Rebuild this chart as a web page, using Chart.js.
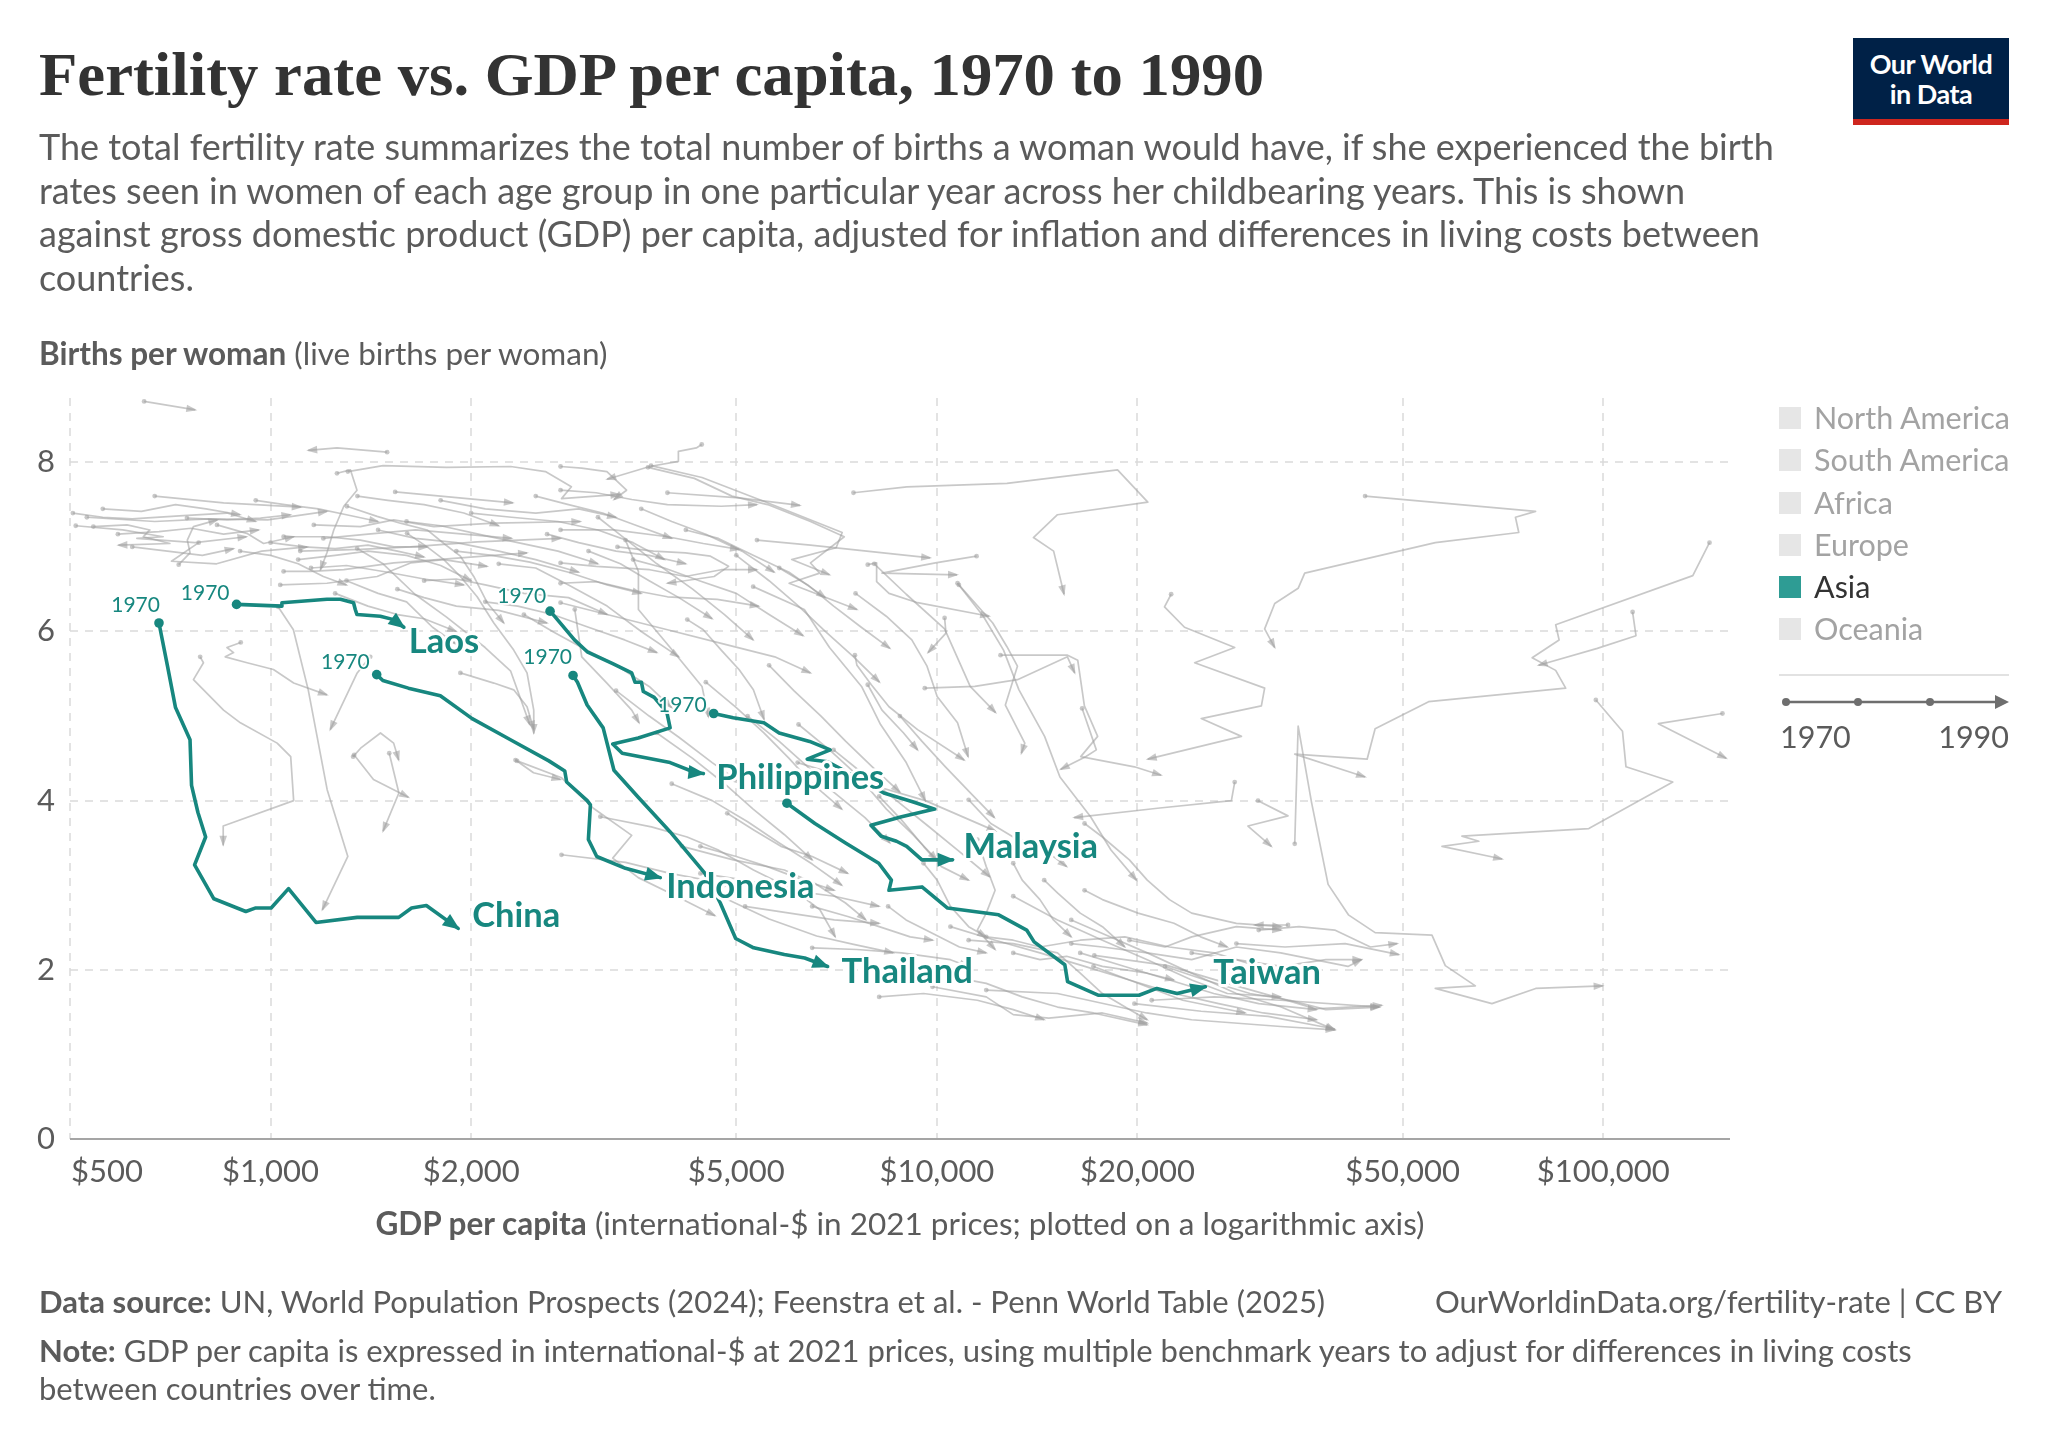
<!DOCTYPE html>
<html>
<head>
<meta charset="utf-8">
<script src="https://cdn.jsdelivr.net/npm/chart.js@4.4.1/dist/chart.umd.min.js"></script>
<style>
  html, body { margin: 0; padding: 0; background: #fff; }
  body { width: 2048px; height: 1446px; position: relative; overflow: hidden; font-family: Lato, "Noto Sans", sans-serif; color: #5b5b5b; }
  #chart { position: absolute; left: 0; top: 0; }
  .txt { position: absolute; white-space: nowrap; line-height: 1.2; }
  #title { left: 39px; top: 40px; font-family: "Liberation Serif", "DejaVu Serif", serif; font-weight: bold; font-size: 62px; color: #333; line-height: 1.1; transform-origin: left top; }
  #subtitle { left: 39px; top: 125px; font-size: 36px; line-height: 43.5px; }
  #ytitle { left: 39px; top: 335px; font-size: 31.5px; }
  #xtitle { left: 70px; width: 1660px; text-align: center; top: 1205px; font-size: 31.5px; }
  #source { left: 39px; top: 1283px; font-size: 31px; }
  #url { right: 46px; top: 1283px; font-size: 31px; }
  #note { left: 39px; top: 1332px; font-size: 31px; line-height: 37.5px; }
  b { font-weight: bold; }
  #logo { position: absolute; left: 1853px; top: 38px; width: 156px; height: 87px; background: #002147; }
  #logo .bar { position: absolute; left: 0; bottom: 0; width: 100%; height: 6px; background: #ce261e; }
  #logo .t { position: absolute; left: 0; width: 100%; text-align: center; color: #fff; font-size: 27px; font-weight: bold; line-height: 1; letter-spacing: -0.5px; }
  .leg { position: absolute; left: 1779px; height: 22px; }
  .leg .sq { position: absolute; left: 0; top: 0; width: 22px; height: 22px; background: #e6e6e6; }
  .leg .lb { position: absolute; left: 35px; top: -8px; font-size: 30.5px; line-height: 1.2; color: #a3a3a3; white-space: nowrap; }
  .leg.on .sq { background: #2e9c94; }
  .leg.on .lb { color: #333; }
  #sep { position: absolute; left: 1779px; top: 674px; width: 230px; height: 2px; background: #e2e2e2; }
</style>
</head>
<body>
<canvas id="chart" width="2048" height="1446"></canvas>

<div id="title" class="txt">Fertility rate vs. GDP per capita, 1970 to 1990</div>
<div id="subtitle" class="txt">The total fertility rate summarizes the total number of births a woman would have, if she experienced the birth<br>rates seen in women of each age group in one particular year across her childbearing years. This is shown<br>against gross domestic product (GDP) per capita, adjusted for inflation and differences in living costs between<br>countries.</div>
<div id="ytitle" class="txt"><b>Births per woman</b> (live births per woman)</div>
<div id="xtitle" class="txt"><b>GDP per capita</b> (international-$ in 2021 prices; plotted on a logarithmic axis)</div>
<div id="source" class="txt"><b>Data source:</b> UN, World Population Prospects (2024); Feenstra et al. - Penn World Table (2025)</div>
<div id="url" class="txt">OurWorldinData.org/fertility-rate | CC BY</div>
<div id="note" class="txt"><b>Note:</b> GDP per capita is expressed in international-$ at 2021 prices, using multiple benchmark years to adjust for differences in living costs<br>between countries over time.</div>

<div id="logo"><div class="t" style="top:12px">Our World</div><div class="t" style="top:42px">in Data</div><div class="bar"></div></div>
<div id="legend"></div>
<div id="sep"></div>
<canvas id="timeline" width="240" height="80" style="position:absolute;left:1775px;top:690px"></canvas>

<script>
// ---- data: [GDP per capita, births per woman], 1970 -> 1990 ----
const china = [[680,6.10],[700,5.60],[720,5.10],[757,4.72],[761,4.18],[778,3.86],[799,3.57],[769,3.24],[822,2.84],[918,2.69],[948,2.73],[1002,2.73],[1064,2.96],[1170,2.56],[1349,2.62],[1557,2.62],[1628,2.73],[1713,2.76],[1912,2.49]];
const laos = [[889,6.32],[1040,6.30],[1040,6.34],[1215,6.38],[1273,6.38],[1332,6.34],[1340,6.26],[1348,6.20],[1461,6.18],[1530,6.14],[1585,6.05]];
const indonesia = [[1443,5.49],[1474,5.42],[1610,5.33],[1798,5.24],[2007,4.97],[2291,4.72],[2616,4.47],[2764,4.35],[2782,4.22],[2987,4.00],[3020,3.95],[2999,3.54],[3087,3.34],[3409,3.20],[3845,3.09]];
const thailand = [[2844,5.48],[2888,5.40],[2986,5.13],[3156,4.86],[3276,4.36],[3563,4.04],[3979,3.63],[4487,3.14],[4731,2.79],[4989,2.37],[5309,2.26],[5902,2.18],[6333,2.14],[6855,2.04]];
const philippines = [[2627,6.24],[2675,6.17],[2858,5.90],[2987,5.76],[3262,5.62],[3483,5.51],[3523,5.40],[3602,5.40],[3626,5.29],[3765,5.22],[3934,5.04],[3978,4.86],[3563,4.74],[3262,4.67],[3371,4.56],[3978,4.45],[4345,4.33],[4462,4.32]];
const malaysia = [[4624,5.03],[4947,4.98],[5500,4.92],[5798,4.80],[6442,4.70],[6917,4.60],[6388,4.49],[6855,4.46],[7163,4.38],[8324,4.09],[9169,3.99],[9927,3.90],[8851,3.81],[7962,3.71],[8250,3.58],[8698,3.52],[9010,3.46],[9498,3.30],[10558,3.30]];
const taiwan = [[5956,3.97],[6561,3.73],[7293,3.50],[8180,3.26],[8546,3.06],[8472,2.94],[9498,2.98],[10376,2.73],[12380,2.65],[13637,2.47],[13994,2.33],[15560,2.06],[15710,1.86],[17455,1.70],[20108,1.70],[21380,1.78],[22940,1.72],[25290,1.80]];

const asiaNames = ["China", "Laos", "Indonesia", "Thailand", "Philippines", "Malaysia", "Taiwan"];
const asiaSeries = [china, laos, indonesia, thailand, philippines, malaysia, taiwan];

// other countries, drawn in grey
const otherCountries = [
  [[646,8.72],[771,8.62]],
  [[505,7.4],[560,7.35],[620,7.33],[740,7.37],[860,7.4],[950,7.3]],
  [[510,7.25],[600,7.2],[690,7.12],[630,7.1],[770,7.05],[920,7.12]],
  [[530,7.35],[670,7.3],[810,7.33],[990,7.32],[1215,7.42]],
  [[670,7.6],[850,7.52],[1110,7.47]],
  [[780,7.05],[710,6.83],[830,6.8],[970,6.95],[1135,7.0]],
  [[728,6.79],[757,6.93],[750,7.08],[766,7.24],[832,7.32]],
  [[1496,8.12],[1258,8.17],[1139,8.14]],
  [[1538,7.65],[2310,7.52]],
  [[1306,7.89],[1475,7.96],[1837,7.94],[2293,7.95],[2585,7.89],[2828,7.71],[2733,7.57],[3339,7.62]],
  [[3724,7.96],[4441,7.82],[5532,7.53],[7210,7.17],[7060,6.99],[6055,6.85],[6900,6.67]],
  [[7496,7.64],[9016,7.71],[12740,7.75],[18670,7.91],[20730,7.53],[15170,7.38],[13960,7.11],[14970,6.95],[15520,6.44]],
  [[43920,7.60],[79160,7.42],[73850,7.35],[74700,7.17],[55980,7.05],[35650,6.69],[34850,6.51],[32140,6.33],[31040,6.03],[32140,5.81]],
  [[144400,7.05],[136300,6.66],[84860,6.08],[85870,5.90],[78240,5.69],[84860,5.54],[87850,5.33],[54700,5.17],[45470,4.85],[44230,4.49],[34440,4.55],[43920,4.28]],
  [[110700,6.23],[112000,5.95],[98000,5.8],[80000,5.6]],
  [[97500,5.19],[106900,4.82],[108200,4.40],[127200,4.22],[95160,3.67],[61380,3.58],[65070,3.52],[57290,3.46],[70530,3.31]],
  [[151000,5.03],[121000,4.91],[153000,4.5]],
  [[34440,3.49],[34850,4.88],[36500,3.98],[38650,3.01],[41460,2.65],[45470,2.44],[55340,2.41],[57950,2.05],[64300,1.81],[55980,1.78],[68080,1.60],[79210,1.78],[99800,1.81]],
  [[22470,6.44],[21960,6.29],[23530,6.05],[27990,5.81],[24370,5.63],[31040,5.33],[30690,5.12],[24930,4.97],[28650,4.76],[20720,4.49]],
  [[27990,4.22],[27670,4.0],[21430,3.91],[16070,3.8]],
  [[30340,4.0],[33650,3.82],[29300,3.70],[31770,3.46]],
  [[12460,5.72],[15710,5.72],[16270,5.66],[16650,5.12],[17430,4.76],[16440,4.52],[19790,4.40],[21700,4.30]],
  [[1027,6.29],[1082,6.02],[1139,5.31],[1216,4.13],[1306,3.34],[1196,2.71]],
  [[784,5.70],[793,5.63],[766,5.43],[850,5.07],[901,4.92],[1023,4.68],[1072,4.52],[1083,4.0],[849,3.70],[849,3.48]],
  [[902,5.87],[860,5.81],[880,5.75],[855,5.70],[922,5.63],[1010,5.55],[1083,5.39],[1215,5.25]],
  [[1335,4.54],[1427,4.25],[1610,4.04]],
  [[1507,4.56],[1558,4.09],[1475,3.64]],
  [[1411,5.70],[1349,5.51],[1229,4.84]],
  [[1330,4.52],[1365,4.62],[1462,4.80],[1530,4.68],[1557,4.48]],
  [[3941,7.64],[5047,7.58],[6230,7.49]],
  [[3685,7.94],[4325,7.81],[4926,7.60],[5570,7.50],[6461,7.30],[7261,7.12],[6461,6.81],[6670,6.69],[6001,6.57],[7586,6.26]],
  [[5370,7.08],[6461,7.02],[9770,6.87]],
  [[7875,6.79],[8120,6.81],[8120,6.59],[8475,6.45],[9355,6.34],[11980,6.18]],
  [[11470,6.89],[9950,6.81],[8272,6.69],[10720,6.67]],
  [[10790,6.55],[11400,6.34],[12130,6.10],[12740,5.82],[13210,5.59],[12670,5.13],[13550,4.68],[13390,4.56]],
  [[10270,6.16],[10320,5.98],[9700,5.75]],
  [[7533,5.72],[7586,5.60],[7973,5.37],[8475,5.11],[9355,4.84],[10990,4.48]],
  [[7875,5.37],[8272,5.07],[8913,4.80],[9355,4.60]],
  [[9590,5.33],[11400,5.35],[13210,5.43],[15700,5.70],[16100,5.51]],
  [[16520,5.09],[17350,4.60],[16720,4.52],[15340,4.37]],
  [[2724,7.95],[2930,7.93],[3197,7.89],[3422,7.67],[3277,7.56]],
  [[3316,7.0],[3755,6.95],[4194,6.93],[4573,6.89],[4868,6.77],[4631,6.65],[3941,6.57]],
  [[2724,6.57],[3081,6.59],[3484,6.49],[3941,6.41],[4680,6.38],[5403,6.30]],
  [[2724,6.34],[3277,6.18],[3941,6.02],[4746,5.86],[5710,5.70],[6461,5.51]],
  [[4221,6.14],[4461,6.02],[4746,5.78],[5047,5.55],[5304,5.31],[5504,4.96]],
  [[2861,6.26],[2931,5.70],[3197,5.39],[3484,5.07],[3573,4.92]],
  [[11860,1.76],[15170,1.72],[20640,1.49],[24120,1.41],[32810,1.33],[39530,1.29]],
  [[16410,2.20],[19140,2.04],[22340,1.88],[26030,1.72],[30410,1.60],[37150,1.53]],
  [[13020,2.87],[15170,2.59],[17720,2.35],[20690,2.12],[24120,1.88],[27290,1.72],[32810,1.68]],
  [[10480,2.51],[12230,2.35],[14280,2.20],[16670,2.04],[19450,1.88],[23390,1.64],[29030,1.49]],
  [[21010,1.64],[26060,1.68],[32810,1.64],[46130,1.56]],
  [[15910,2.31],[17720,2.27],[20690,2.20],[24120,2.12],[28150,2.27],[32810,2.20],[41390,2.04],[43360,2.12]],
  [[28150,2.31],[33300,2.27],[41000,2.31],[49350,2.18]],
  [[19790,1.60],[24930,1.51],[31410,1.45],[39540,1.30]],
  [[17230,2.17],[22210,2.05],[26730,1.86],[32880,1.66],[36950,1.54],[46530,1.58]],
  [[33650,2.53],[29990,2.53]],
  [[4800,2.85],[5600,2.6],[6600,2.4],[7500,2.3],[8600,2.2]],
  [[9850,1.80],[11860,1.68],[13020,1.47],[14720,1.43],[17720,1.49],[20690,1.37]],
  [[4146,3.46],[4947,3.30],[5903,3.18],[6561,3.02],[7293,2.79],[7823,2.59]],
  [[3126,3.81],[3729,3.69],[4218,3.57],[4690,3.42],[5306,3.18],[6110,2.94],[6675,2.71],[7038,2.39]],
  [[7550,6.45],[8395,6.18],[9170,5.90],[9665,5.59],[10010,5.23],[10740,4.92],[11140,4.52]],
  [[10740,6.57],[11740,6.18],[12590,5.78],[13280,5.31],[14510,4.76],[15300,4.28],[17010,3.81],[18240,3.42],[19930,3.06]],
  [[2344,4.47],[2734,4.27],[3051,3.91],[3484,3.59],[3262,3.32],[3563,3.09],[4065,2.87],[4645,2.64]],
  [[2733,3.36],[3409,3.27],[3978,3.14],[4959,3.0]],
  [[6181,4.45],[7708,4.22],[9608,4.0],[12250,3.64]],
  [[6499,2.26],[7585,2.24],[8854,2.20],[10480,2.12],[11150,2.04]],
  [[8192,1.68],[9550,1.72],[11500,1.64],[13020,1.53],[14490,1.41]],
  [[11860,2.39],[13020,2.35],[14280,2.27],[16410,2.35],[19140,2.39],[22340,2.27],[26060,2.20],[30400,2.04]],
  [[16660,3.73],[17720,3.57],[19450,3.30],[20690,3.06],[22340,2.83],[24120,2.67],[28150,2.55],[32870,2.51]],
  [[1034,6.55],[1215,6.57],[1445,6.65],[1622,6.81],[1820,6.85],[2114,6.77]],
  [[1046,6.71],[1148,6.71],[1288,6.73],[1531,6.81],[1927,6.87],[2426,6.93]],
  [[1108,6.95],[1364,6.97],[1622,7.0],[2042,7.06],[2723,7.10]],
  [[1161,7.26],[1364,7.24],[1530,7.32],[1758,7.24],[2163,7.28],[2917,7.30]],
  [[1302,7.48],[1445,7.36],[1566,7.28],[1718,7.20],[1820,7.04],[1927,6.89],[2018,6.65],[2114,6.34],[2239,6.10]],
  [[1258,7.87],[1318,7.91],[1348,7.67],[1288,7.48],[1244,7.20],[1215,6.93],[1188,6.73]],
  [[1603,7.16],[1718,7.0],[1820,6.85],[1927,6.65],[2042,6.41],[2163,6.10],[2317,5.78],[2426,5.51],[2483,5.07],[2483,4.80]],
  [[1927,5.51],[2163,5.39],[2317,5.31],[2426,5.11],[2483,4.84]],
  [[542,7.24],[609,7.26],[659,7.20],[644,7.12],[706,7.04],[591,7.02]],
  [[749,7.34],[860,7.32],[966,7.34],[1071,7.38]],
  [[831,7.26],[921,7.16],[976,7.04],[1083,7.12]],
  [[1046,7.12],[1215,7.12],[1364,7.08],[1531,7.0],[1718,7.0]],
  [[2724,7.67],[3081,7.64],[3484,7.56],[3941,7.50],[4746,7.48],[5370,7.50]],
  [[2724,7.20],[3277,7.20],[3941,7.12],[4461,7.04],[5047,6.97]],
  [[2724,6.81],[3081,6.77],[3707,6.73],[4194,6.65],[4746,6.73],[5370,6.73]],
  [[1349,6.98],[1475,6.80],[1647,6.44],[1837,6.17],[2099,5.81],[2293,5.53],[2449,4.90]],
  [[3409,7.08],[3565,6.71],[3565,6.26],[3978,5.81],[4441,5.35],[4540,4.99]],
  [[5300,6.53],[6325,6.26],[6900,5.81],[7708,5.35],[8232,4.90],[8995,4.45],[9608,4.0]],
  [[8054,6.80],[8995,6.44],[10270,6.03],[11220,5.35],[12250,5.04]],
  [[2331,4.48],[2481,4.33],[2723,4.25]],
  [[4437,8.21],[4355,8.17],[4093,8.13],[4093,8.01],[3707,7.95],[3200,7.80]],
  // rich-country cluster, bottom centre
  [[15910,2.59],[17720,2.43],[20690,2.20],[24120,1.96],[28150,1.72],[32870,1.56],[39540,1.29]],
  [[17180,2.04],[19450,1.88],[22690,1.72],[26480,1.60],[30890,1.49],[37160,1.41]],
  [[22000,2.04],[25270,1.88],[29510,1.72],[33880,1.64],[38350,1.53],[46130,1.56]],
  [[13020,2.20],[14280,2.12],[15660,2.16],[17720,2.04],[20690,1.96],[22690,1.88]],
  [[11160,2.35],[13020,2.31],[15170,2.20],[16410,1.96],[17720,1.72],[19450,1.53],[20690,1.41]],
  [[10480,1.92],[11860,1.84],[13430,1.68],[15170,1.56],[17180,1.49],[20690,1.35]],
  [[24120,2.20],[28150,2.12],[32870,2.04],[38350,2.12],[43360,2.12]],
  [[30410,2.47],[34950,2.51],[39540,2.47],[44740,2.27],[49090,2.31]],
  [[19450,2.35],[22000,2.27],[24120,2.39],[28150,2.51],[32870,2.47]],
  [[16660,2.94],[17720,2.83],[20040,2.67],[22690,2.55],[24880,2.39],[27290,2.27]],
  [[14490,3.06],[15170,2.91],[16410,2.67],[17720,2.51],[19140,2.27]],
  [[13020,3.26],[13430,3.06],[14280,2.83],[14960,2.59],[15910,2.39]],
  [[11500,3.54],[11860,3.22],[12230,2.94],[11860,2.67],[11500,2.47],[12230,2.24]],
  [[9550,3.26],[10010,3.06],[10480,2.75],[11160,2.51],[11860,2.39]],
  [[8450,2.75],[8990,2.59],[9860,2.43],[10810,2.27],[11860,2.20]],
  [[6499,2.75],[7350,2.63],[8192,2.51],[9120,2.39],[9860,2.35]],
  [[5154,2.75],[6012,2.67],[7014,2.59],[8192,2.55]],
  [[4416,3.14],[5154,3.06],[6012,2.94],[7014,2.87],[8192,2.75]],
  [[4416,3.46],[4999,3.34],[5570,3.22],[6300,3.06],[7014,2.94]],
  [[4846,3.85],[5318,3.65],[5834,3.46],[6499,3.34],[7350,3.14]],
  [[8192,4.05],[8854,3.77],[9550,3.46],[10160,3.22],[11160,3.06]],
  [[11160,4.01],[12050,3.73],[13020,3.57],[14280,3.46],[15660,3.22]],
  // high-fertility band, upper left
  [[1100,6.85],[1250,6.90],[1400,6.95],[1600,6.90],[1800,6.78],[2000,6.60]],
  [[1450,7.20],[1650,7.10],[1900,7.05],[2200,6.95],[2500,6.85],[2900,6.70]],
  [[1700,6.60],[1900,6.62],[2100,6.55],[2400,6.45],[2800,6.40],[3200,6.20]],
  [[2000,7.40],[2300,7.35],[2700,7.30],[3100,7.20],[3500,7.05],[3900,6.85]],
  [[1200,7.10],[1400,7.15],[1650,7.20],[1950,7.15],[2300,7.10]],
  [[2200,6.80],[2500,6.75],[2800,6.55],[3200,6.30],[3600,6.00],[4100,5.70]],
  [[1550,6.50],[1700,6.40],[1900,6.30],[2200,6.25],[2600,6.10]],
  [[3100,7.35],[3400,7.10],[3800,6.80],[4300,6.50],[4800,6.20],[5300,5.90]],
  [[1800,7.55],[2100,7.45],[2500,7.40],[2900,7.45],[3300,7.35]],
  [[2400,6.20],[2650,6.00],[2950,5.80],[3300,5.60],[3700,5.35],[4000,5.10]],
  [[1300,6.60],[1450,6.45],[1600,6.35],[1750,6.05],[1900,5.85]],
  [[900,6.95],[1000,6.90],[1100,6.80],[1200,6.65],[1300,6.55]],
  [[3500,6.85],[3900,6.75],[4400,6.60],[5000,6.45],[5600,6.20],[6300,5.95]],
  [[4200,7.20],[4700,7.10],[5300,6.90],[6000,6.70],[6800,6.40]],
  [[5000,6.90],[5600,6.60],[6200,6.30],[6800,6.00],[7500,5.70],[8200,5.40]],
  [[560,7.45],[640,7.42],[720,7.5],[800,7.45],[900,7.38]],
  [[590,7.15],[680,7.18],[760,7.22],[850,7.15],[960,7.2]],
  [[620,7.0],[700,6.95],[790,6.9],[880,6.98]],
  [[950,7.55],[1050,7.5],[1180,7.45],[1300,7.38],[1450,7.3]],
  [[1000,7.05],[1120,7.0],[1250,6.98],[1400,7.02],[1550,6.95],[1700,6.88]],
  [[1150,6.75],[1300,6.78],[1500,6.7],[1700,6.62],[1950,6.55]],
  [[1350,7.6],[1500,7.55],[1700,7.5],[1950,7.4],[2200,7.25]],
  [[1600,7.3],[1800,7.25],[2050,7.15],[2350,7.05],[2700,6.95],[3100,6.8]],
  [[1900,6.95],[2150,6.9],[2450,6.82],[2800,6.7],[3200,6.55],[3600,6.45]],
  [[2500,7.6],[2800,7.5],[3150,7.4],[3550,7.25],[4000,7.1]],
  [[2100,6.35],[2350,6.3],[2650,6.2],[3000,6.05],[3400,5.9],[3800,5.75]],
  [[3000,6.95],[3350,6.8],[3700,6.6],[4100,6.4],[4600,6.15]],
  [[1250,6.45],[1400,6.3],[1550,6.2],[1700,6.15],[1900,6.0]],
  [[2600,7.15],[2900,7.05],[3300,6.95],[3700,6.9],[4200,6.8]],
  [[3600,7.45],[4000,7.3],[4500,7.15],[5100,6.95],[5700,6.7]],
  [[5800,6.75],[6400,6.55],[7000,6.3],[7700,6.05],[8500,5.8]],
  // middle band
  [[4500,5.40],[5000,5.10],[5500,4.80],[6000,4.50],[6500,4.20],[7200,3.90]],
  [[5200,5.00],[5800,4.70],[6400,4.40],[7000,4.10],[7800,3.80],[8500,3.50]],
  [[3800,4.80],[4300,4.50],[4800,4.20],[5300,3.90],[5900,3.60],[6500,3.30]],
  [[6200,4.90],[6900,4.60],[7600,4.30],[8400,3.90],[9200,3.60],[10000,3.30]],
  [[4000,4.20],[4600,4.00],[5200,3.75],[5800,3.50],[6500,3.25],[7200,3.00]],
  [[7000,4.60],[7800,4.30],[8700,4.00],[9700,3.70],[10800,3.40],[12000,3.10]],
  [[5600,5.6],[6100,5.3],[6700,5.0],[7300,4.7],[8000,4.4],[8800,4.1]],
  [[3300,5.3],[3700,5.0],[4100,4.75],[4600,4.45],[5100,4.2]],
  [[8800,5.0],[9500,4.7],[10300,4.4],[11200,4.1],[12200,3.8]]
];

const xTicks = [500, 1000, 2000, 5000, 10000, 20000, 50000, 100000];
const yTicks = [0, 2, 4, 6, 8];
const regions = ["North America", "South America", "Africa", "Europe", "Asia", "Oceania"];
const activeRegion = "Asia";

// label placement (pixels): name relative to the arrow end, "1970" relative to the first dot
const nameOffset = {
  China: [14, -1], Laos: [5, 26], Indonesia: [6, 20], Thailand: [14, 17],
  Philippines: [13, 15], Malaysia: [11, -2], Taiwan: [8, -3]
};
const yearOffset = {
  China: [1, -11], Laos: [-7, -4], Indonesia: [-7, -6], Thailand: [-1, -11],
  Philippines: [-4, -8], Malaysia: [-7, -2]
};

const TEAL = "#17877f";
const GREY = "rgba(160,160,160,0.58)";

function toXY(arr) {
  return arr.map(([x, y]) => ({ x, y }));
}

// legend
const legendEl = document.getElementById("legend");
const legendRows = [418, 460, 503, 545, 587, 629];
regions.forEach((r, i) => {
  const d = document.createElement("div");
  d.className = "leg" + (r === activeRegion ? " on" : "");
  d.style.top = (legendRows[i] - 11) + "px";
  d.innerHTML = '<div class="sq"></div><div class="lb">' + r + "</div>";
  legendEl.appendChild(d);
});

// timeline widget under the legend
function drawTimeline() {
  const c = document.getElementById("timeline").getContext("2d");
  const y = 12;
  c.strokeStyle = "#6e6e6e"; c.fillStyle = "#6e6e6e"; c.lineWidth = 2.5;
  c.beginPath(); c.moveTo(11, y); c.lineTo(226, y); c.stroke();
  [11, 83, 155].forEach(x => { c.beginPath(); c.arc(x, y, 4, 0, Math.PI * 2); c.fill(); });
  c.beginPath(); c.moveTo(234, y); c.lineTo(220, y - 7); c.lineTo(220, y + 7); c.closePath(); c.fill();
  c.font = "30.5px Lato"; c.fillStyle = "#5b5b5b";
  c.textAlign = "left"; c.fillText("1970", 5, 58);
  c.textAlign = "right"; c.fillText("1990", 234, 58);
}

const fmtMoney = v => "$" + v.toLocaleString("en-US");

const gridLines = {
  id: "gridLines",
  beforeDatasetsDraw(chart) {
    const { ctx, chartArea: a, scales: { x, y } } = chart;
    ctx.save();
    ctx.strokeStyle = "#dadada";
    ctx.lineWidth = 1.5;
    ctx.setLineDash([8, 7]);
    xTicks.forEach(v => {
      const px = Math.round(x.getPixelForValue(v));
      ctx.beginPath(); ctx.moveTo(px, a.top); ctx.lineTo(px, a.bottom); ctx.stroke();
    });
    yTicks.slice(1).forEach(v => {
      const py = Math.round(y.getPixelForValue(v));
      ctx.beginPath(); ctx.moveTo(a.left, py); ctx.lineTo(a.right, py); ctx.stroke();
    });
    ctx.setLineDash([]);
    ctx.strokeStyle = "#a5a5a5";
    ctx.lineWidth = 2;
    const y0 = y.getPixelForValue(0);
    ctx.beginPath(); ctx.moveTo(a.left, y0); ctx.lineTo(a.right, y0); ctx.stroke();

    ctx.fillStyle = "#5b5b5b";
    ctx.font = "31px Lato";
    ctx.textBaseline = "alphabetic";
    xTicks.forEach((v, i) => {
      const px = x.getPixelForValue(v);
      ctx.textAlign = i === 0 ? "left" : "center";
      ctx.fillText(fmtMoney(v), i === 0 ? px + 1 : px, a.bottom + 43);
    });
    ctx.restore();
  }
};

// start dot and end arrow for each trajectory
const markers = {
  id: "markers",
  afterDatasetDraw(chart, args) {
    const pts = args.meta.data;
    if (pts.length < 2) return;
    const ds = chart.data.datasets[args.index];
    const hi = ds.highlight;
    const ctx = chart.ctx;
    ctx.save();
    ctx.fillStyle = ds.borderColor;
    const a = pts[0];
    ctx.beginPath(); ctx.arc(a.x, a.y, hi ? 4.8 : 2.4, 0, Math.PI * 2); ctx.fill();
    const p = pts[pts.length - 1], q = pts[pts.length - 2];
    const ang = Math.atan2(p.y - q.y, p.x - q.x);
    const L = hi ? 15 : 9, W = hi ? 7 : 3.8;
    ctx.translate(p.x, p.y);
    ctx.rotate(ang);
    ctx.beginPath(); ctx.moveTo(2, 0); ctx.lineTo(-L, -W); ctx.lineTo(-L, W); ctx.closePath(); ctx.fill();
    ctx.restore();
  }
};

const countryLabels = {
  id: "countryLabels",
  afterDatasetsDraw(chart) {
    const ctx = chart.ctx;
    ctx.save();
    ctx.lineJoin = "round";
    chart.data.datasets.forEach((ds, i) => {
      if (!ds.highlight) return;
      const pts = chart.getDatasetMeta(i).data;
      const end = pts[pts.length - 1], start = pts[0];
      const yo = yearOffset[ds.label];
      if (yo) {
        ctx.font = "21px Lato";
        ctx.textAlign = "right";
        ctx.strokeStyle = "rgba(255,255,255,0.9)"; ctx.lineWidth = 4;
        ctx.strokeText("1970", start.x + yo[0], start.y + yo[1]);
        ctx.fillStyle = TEAL;
        ctx.fillText("1970", start.x + yo[0], start.y + yo[1]);
      }
      const no = nameOffset[ds.label];
      ctx.font = "bold 34.5px Lato";
      ctx.textAlign = "left";
      ctx.strokeStyle = "#fff"; ctx.lineWidth = 6;
      ctx.strokeText(ds.label, end.x + no[0], end.y + no[1]);
      ctx.fillStyle = TEAL;
      ctx.fillText(ds.label, end.x + no[0], end.y + no[1]);
    });
    ctx.restore();
  }
};

const datasets = [];
asiaSeries.forEach((s, i) => {
  datasets.push({
    label: asiaNames[i], data: toXY(s), highlight: true, showLine: true,
    borderColor: TEAL, borderWidth: 3.6, pointRadius: 0,
    borderJoinStyle: "round", borderCapStyle: "round"
  });
});
otherCountries.forEach((s, i) => {
  datasets.push({
    label: "other" + i, data: toXY(s), highlight: false, showLine: true,
    borderColor: GREY, borderWidth: 1.7, pointRadius: 0,
    borderJoinStyle: "round"
  });
});

function draw() {
  drawTimeline();
  new Chart(document.getElementById("chart"), {
    type: "scatter",
    data: { datasets },
    options: {
      responsive: false,
      animation: false,
      events: [],
      layout: { padding: { top: 398, right: 318, bottom: 307, left: 0 } },
      plugins: { legend: { display: false }, tooltip: { enabled: false } },
      scales: {
        x: {
          type: "logarithmic", min: 500, max: 155000,
          grid: { display: false, drawTicks: false },
          border: { display: false },
          ticks: { display: false },
          afterBuildTicks: s => { s.ticks = xTicks.map(v => ({ value: v })); },
          afterFit: s => { s.height = 0; }
        },
        y: {
          type: "linear", min: 0, max: 8.76,
          grid: { display: false, drawTicks: false },
          border: { display: false },
          ticks: { font: { family: "Lato", size: 31 }, color: "#5b5b5b", padding: 15 },
          afterBuildTicks: s => { s.ticks = yTicks.map(v => ({ value: v })); },
          afterFit: s => { s.width = 70; }
        }
      }
    },
    plugins: [gridLines, markers, countryLabels]
  });

  const t = document.getElementById("title");
  const w = t.getBoundingClientRect().width;
  t.style.transform = "scaleX(" + (1225 / w) + ")";
}

document.fonts.load("28px Lato").then(draw, draw);
</script>
</body>
</html>
